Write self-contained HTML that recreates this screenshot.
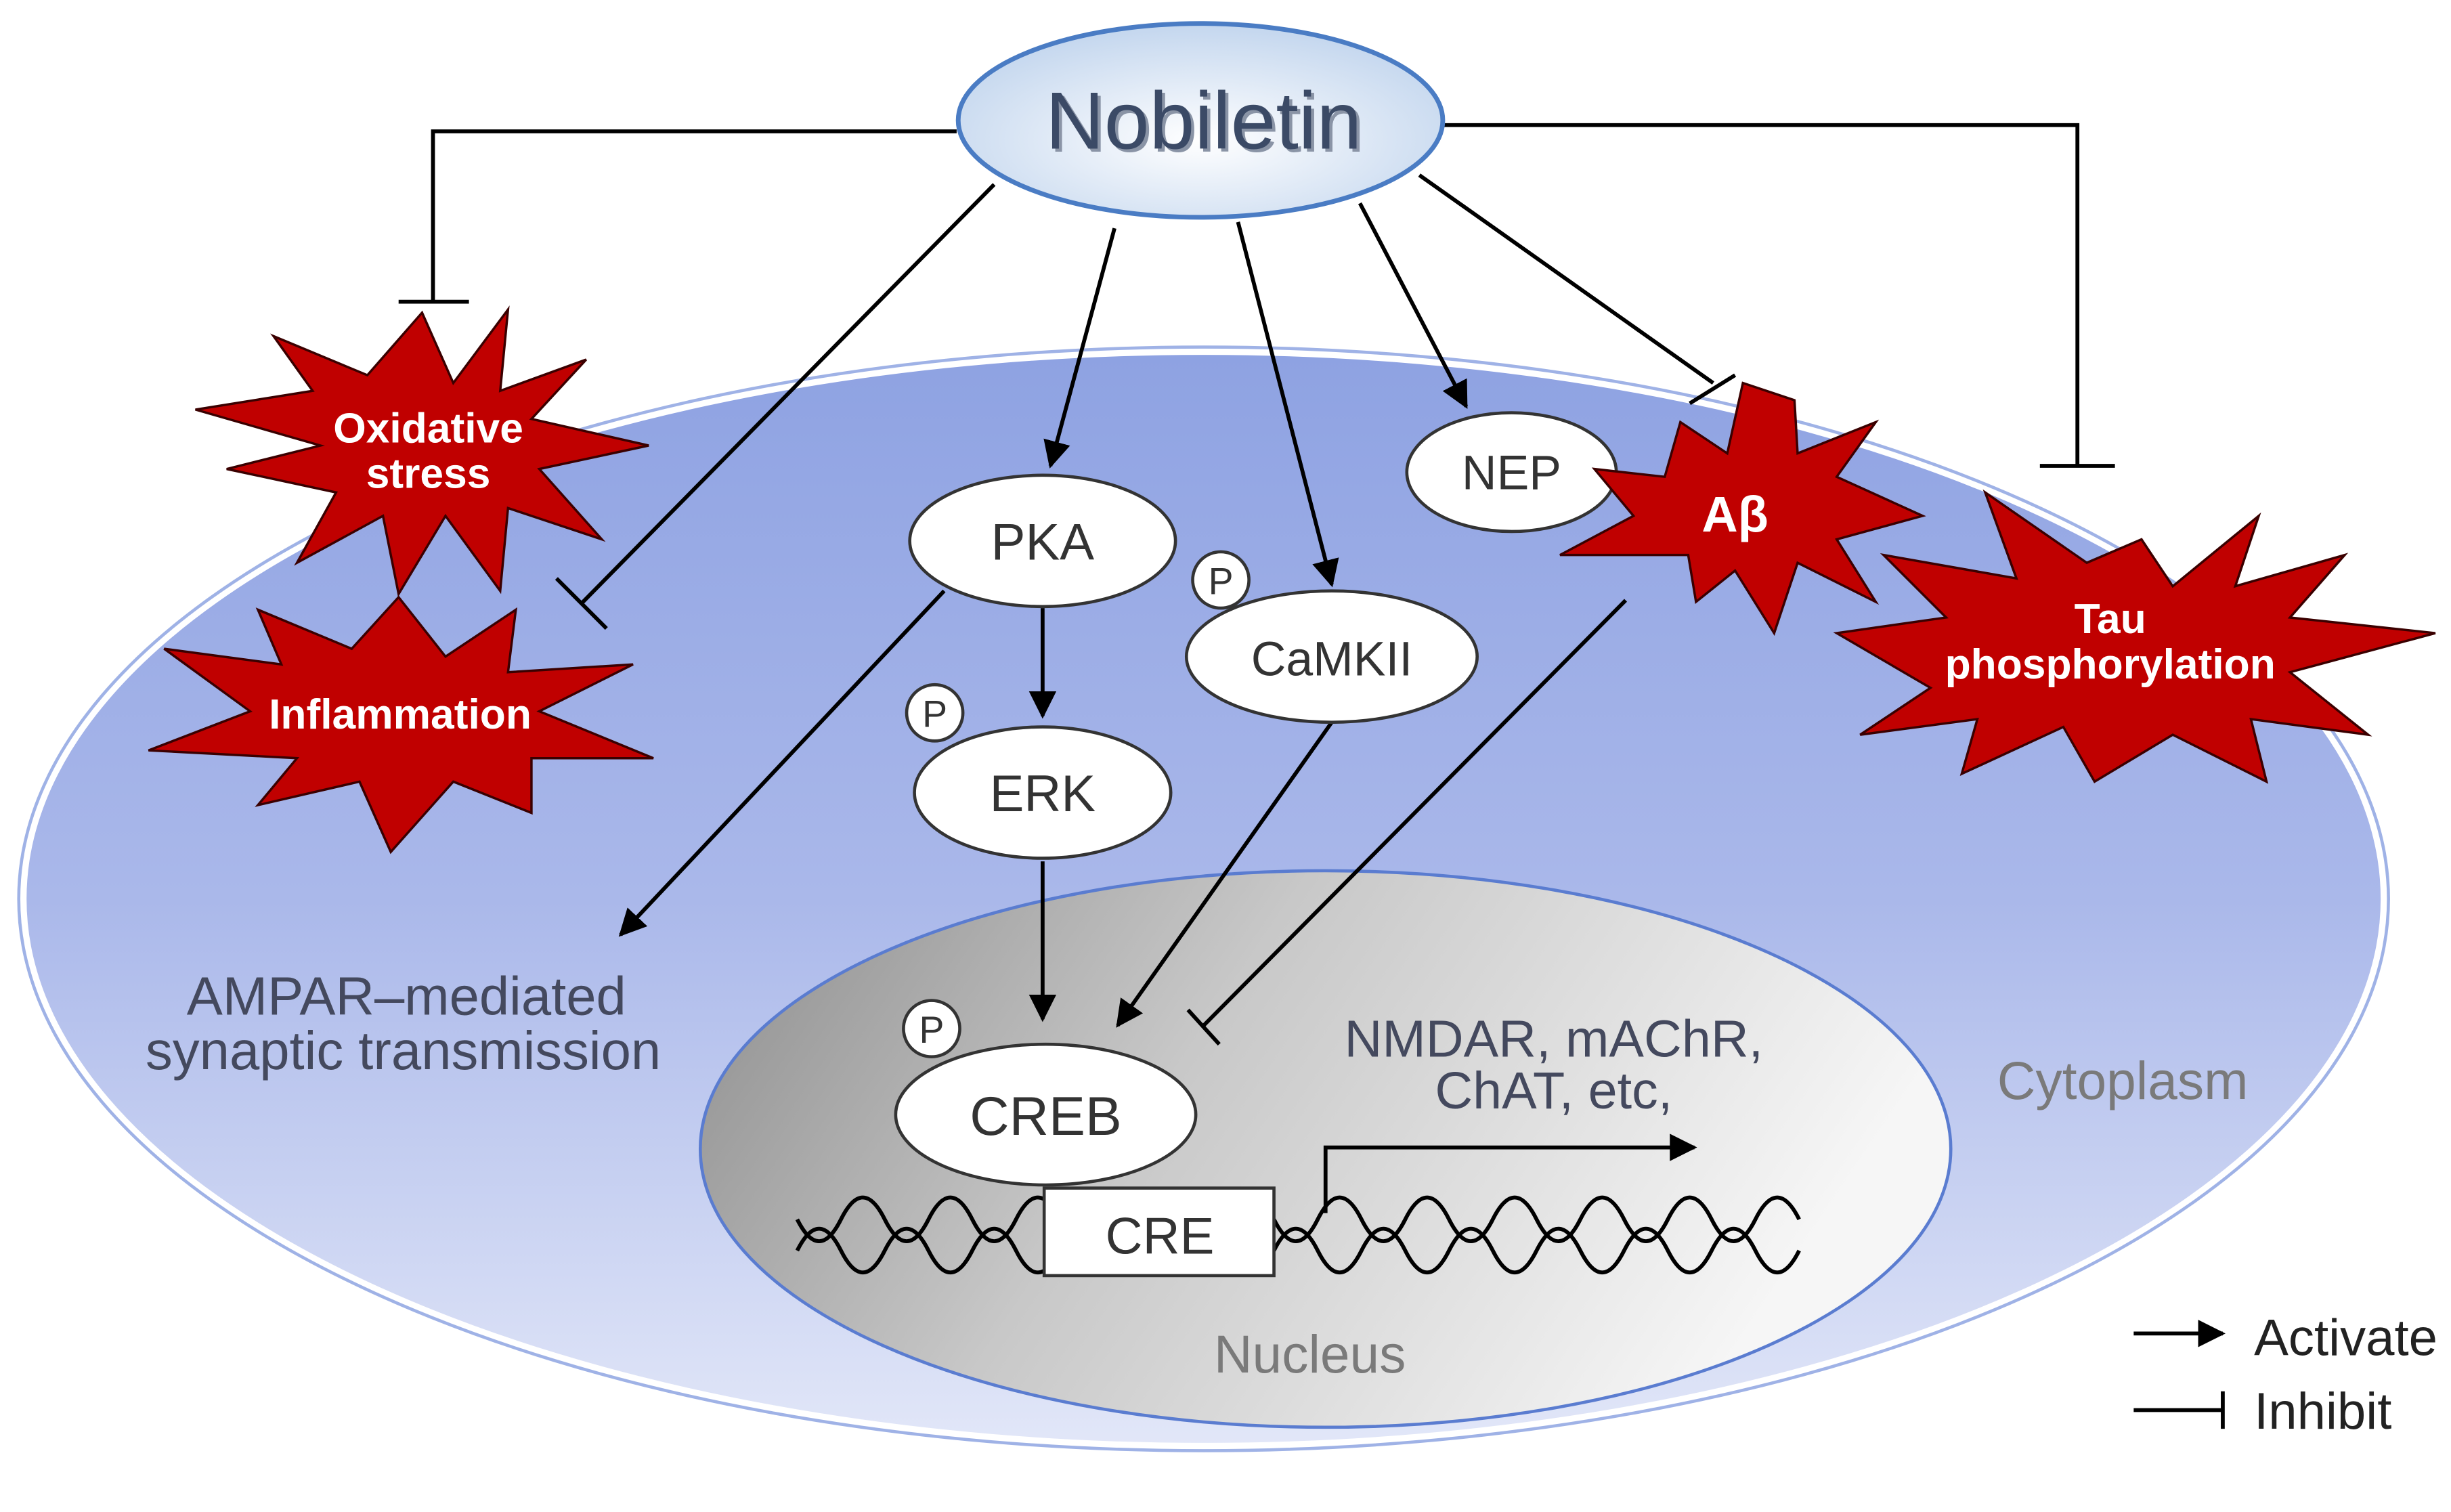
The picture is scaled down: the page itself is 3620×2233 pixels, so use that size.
<!DOCTYPE html>
<html><head><meta charset="utf-8"><style>html,body{margin:0;padding:0;background:#fff}svg{display:block}</style></head><body>
<svg width="3620" height="2233" viewBox="0 0 1568 967.2" xmlns="http://www.w3.org/2000/svg" font-family="Liberation Sans, sans-serif">
<defs>
<linearGradient id="cell" x1="0" y1="0" x2="0" y2="1"><stop offset="0" stop-color="#8ea2e2"/><stop offset="0.5" stop-color="#aab8ea"/><stop offset="1" stop-color="#e2e7f8"/></linearGradient>
<linearGradient id="nuc" x1="0" y1="0" x2="1" y2="0.3"><stop offset="0" stop-color="#8c8c8c"/><stop offset="0.45" stop-color="#c8c8c8"/><stop offset="1" stop-color="#f6f6f6"/></linearGradient>
<radialGradient id="nob" cx="0.5" cy="0.6" r="0.6"><stop offset="0" stop-color="#ffffff"/><stop offset="1" stop-color="#c3d6ee"/></radialGradient>
<marker id="ar" viewBox="0 0 10 10" refX="9" refY="5" markerWidth="7" markerHeight="7" orient="auto"><path d="M0,0 L10,5 L0,10 z" fill="#000"/></marker>
</defs>
<ellipse cx="770" cy="575" rx="755" ry="350" fill="url(#cell)" stroke="#ffffff" stroke-width="4"/>
<ellipse cx="770" cy="575" rx="758" ry="353" fill="none" stroke="#9fb2e6" stroke-width="2"/>
<ellipse cx="848" cy="735" rx="400" ry="178" fill="url(#nuc)" stroke="#5a7cd0" stroke-width="2"/>
<g fill="none" stroke="#000" stroke-width="2.5">
<path d="M510,800 q14,-28 28,0 t28,0 t28,0 t28,0 t28,0 t28,0"/>
<path d="M510,780 q14,28 28,0 t28,0 t28,0 t28,0 t28,0 t28,0"/>
<path d="M815,800 q14,-28 28,0 t28,0 t28,0 t28,0 t28,0 t28,0 t28,0 t28,0 t28,0 t28,0 t28,0 t28,0"/>
<path d="M815,780 q14,28 28,0 t28,0 t28,0 t28,0 t28,0 t28,0 t28,0 t28,0 t28,0 t28,0 t28,0 t28,0"/>
</g>
<rect x="668" y="760" width="147" height="56" fill="#fff" stroke="#333" stroke-width="2"/>
<text x="742" y="802" font-size="33" text-anchor="middle" fill="#333">CRE</text>
<g stroke="#000" stroke-width="2.5" fill="none">
<polyline points="612,84 277,84 277,193"/><line x1="255" y1="193" x2="300" y2="193"/>
<polyline points="924,80 1329,80 1329,298"/><line x1="1305" y1="298" x2="1353" y2="298"/>
<line x1="636" y1="118" x2="372" y2="386"/><line x1="356" y1="370" x2="388" y2="402"/>
<line x1="713" y1="146" x2="672" y2="298" marker-end="url(#ar)"/>
<line x1="792" y1="142" x2="852" y2="374" marker-end="url(#ar)"/>
<line x1="870" y1="130" x2="938" y2="260" marker-end="url(#ar)"/>
<line x1="908" y1="112" x2="1096" y2="245"/><line x1="1081" y1="258" x2="1110" y2="240"/>
<line x1="667" y1="389" x2="667" y2="458" marker-end="url(#ar)"/>
<line x1="667" y1="551" x2="667" y2="652" marker-end="url(#ar)"/>
<line x1="604" y1="378" x2="397" y2="598" marker-end="url(#ar)"/>
<line x1="852" y1="462" x2="715" y2="656" marker-end="url(#ar)"/>
<line x1="1040" y1="384" x2="770" y2="656"/><line x1="760" y1="646" x2="780" y2="668"/>
<polyline points="848,776 848,734 1084,734" marker-end="url(#ar)"/>
<line x1="1365" y1="853" x2="1422" y2="853" marker-end="url(#ar)"/>
<line x1="1365" y1="902" x2="1422" y2="902"/><line x1="1422" y1="890" x2="1422" y2="914"/>
</g>
<ellipse cx="768" cy="77" rx="155" ry="62" fill="url(#nob)" stroke="#4a7cc4" stroke-width="3"/>
<text x="770" y="95" font-size="52" text-anchor="middle" fill="#8a94a6" dx="2" dy="2">Nobiletin</text>
<text x="770" y="95" font-size="52" text-anchor="middle" fill="#3b4a66">Nobiletin</text>
<g fill="#fff" stroke="#333" stroke-width="2">
<ellipse cx="667" cy="346" rx="85" ry="42"/>
<ellipse cx="667" cy="507" rx="82" ry="42"/>
<ellipse cx="852" cy="420" rx="93" ry="42"/>
<ellipse cx="967" cy="302" rx="67" ry="38"/>
<ellipse cx="669" cy="713" rx="96" ry="45"/>
<circle cx="781" cy="371" r="18"/><circle cx="598" cy="456" r="18"/><circle cx="596" cy="658" r="18"/>
</g>
<g fill="#333" text-anchor="middle">
<text x="667" y="358" font-size="33">PKA</text>
<text x="667" y="519" font-size="33">ERK</text>
<text x="852" y="432" font-size="31">CaMKII</text>
<text x="967" y="313" font-size="31">NEP</text>
<text x="669" y="726" font-size="35">CREB</text>
<text x="781" y="380" font-size="24">P</text><text x="598" y="465" font-size="24">P</text><text x="596" y="667" font-size="24">P</text>
</g>
<g fill="#c00000" stroke="#3a0000" stroke-width="1.5">
<polygon points="270,200 290,245 325,198 320,250 375,230 340,268 415,285 345,300 385,345 325,325 320,378 285,330 255,380 245,330 190,360 215,315 145,300 205,285 125,262 200,250 175,215 235,240"/>
<polygon points="255,382 285,420 330,390 325,430 405,425 345,455 418,485 340,485 340,520 290,500 250,545 230,500 165,515 190,485 95,480 160,455 105,415 180,425 165,390 225,415"/>
<polygon points="1148,256 1150,290 1200,270 1175,305 1230,330 1175,345 1200,385 1150,360 1135,405 1110,365 1085,385 1080,355 998,355 1045,330 1020,300 1065,305 1075,270 1105,290 1115,245"/>
<polygon points="1370,345 1390,375 1445,330 1430,375 1500,355 1465,395 1558,405 1465,430 1515,470 1440,460 1450,500 1390,470 1340,500 1320,465 1255,495 1265,460 1190,470 1235,440 1175,405 1245,395 1205,355 1290,370 1270,315 1335,360"/>
</g>
<g fill="#fff" font-weight="bold" text-anchor="middle">
<text x="274" y="283" font-size="27">Oxidative</text><text x="274" y="312" font-size="27">stress</text>
<text x="256" y="466" font-size="27">Inflammation</text>
<text x="1110" y="340" font-size="32">Aβ</text>
<text x="1350" y="405" font-size="27">Tau</text><text x="1350" y="434" font-size="27">phosphorylation</text>
</g>
<g text-anchor="middle" fill="#44495e">
<text x="260" y="649" font-size="34.5">AMPAR–mediated</text><text x="258" y="684" font-size="34.5">synaptic transmission</text>
<text x="994" y="676" font-size="33.5">NMDAR, mAChR,</text><text x="994" y="709" font-size="33.5">ChAT, etc,</text>
</g>
<text x="1358" y="703" font-size="34" text-anchor="middle" fill="#7a7a7a">Cytoplasm</text>
<text x="838" y="878" font-size="34" text-anchor="middle" fill="#7a7a7a">Nucleus</text>
<text x="1442" y="867" font-size="33" fill="#222">Activate</text>
<text x="1442" y="914" font-size="33" fill="#222">Inhibit</text>
</svg>
</body></html>
